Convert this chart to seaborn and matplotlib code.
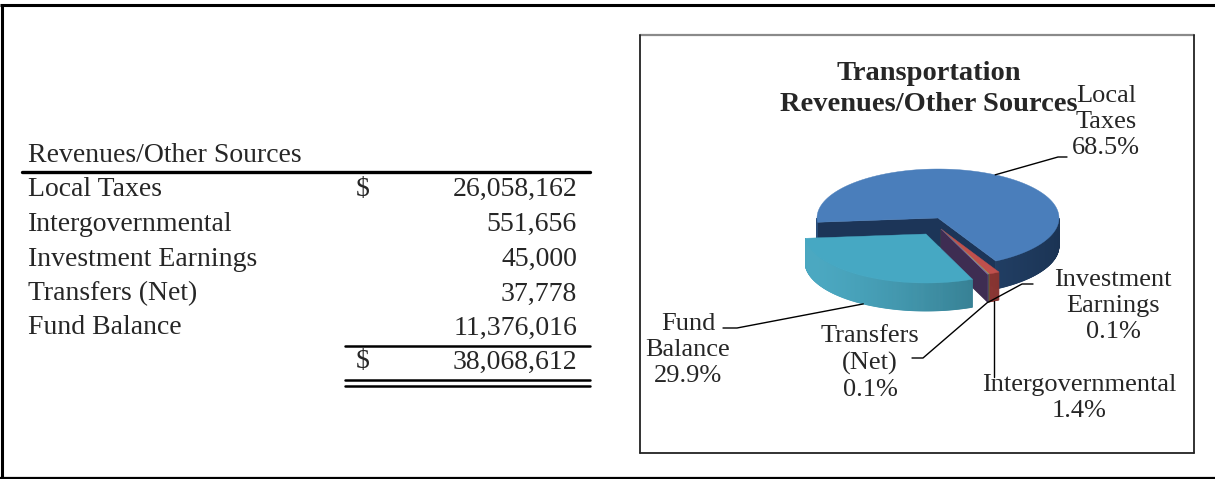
import numpy as np
import matplotlib.pyplot as plt
import matplotlib.colors as mcolors
import seaborn as sns
from matplotlib.patches import Polygon

# data
sources = ["Local Taxes", "Intergovernmental", "Investment Earnings", "Transfers (Net)", "Fund Balance"]
amounts = [26058162, 551656, 45000, 37778, 11376016]
pie_labels = ["Local\nTaxes", "Intergovernmental", "Investment\nEarnings", "Transfers\n(Net)", "Fund\nBalance"]
top_colors = ["#4a7ebb", "#c0504d", "#9bbb59", "#8064a2", "#46a8c3"]
side_light = ["#2a4e7a", "#a8403d", "#6f8c3a", "#5a4275", "#4ba8c1"]
side_dark = ["#1a3252", "#6e2a28", "#4e6428", "#3e2d52", "#245e6d"]
cut_colors = ["#1c3558", "#4a2f48", "#4e6428", "#3e2d52", "#2a6e80"]

sns.set_style("white")
plt.rcParams['font.family'] = ['Liberation Serif', 'DejaVu Serif']

fig = plt.figure(figsize=(12.15, 4.79), dpi=100)
ax = fig.add_axes([0, 0, 1, 1])
ax.set_xlim(0, 1215)
ax.set_ylim(479, 0)
ax.axis('off')

# outer frame
ax.plot([0, 1215], [5, 5], color='black', lw=2.2, solid_capstyle='butt')
ax.plot([1.5, 1.5], [5, 478], color='black', lw=2.2)
ax.plot([0, 1215], [477.5, 477.5], color='black', lw=1.6)

# ---- table ----
FS = 20
total = sum(amounts)
ax.text(28, 155, "Revenues/Other Sources", fontsize=FS, va='center', ha='left')
ax.plot([22, 590], [172, 172], color='black', lw=2.4)
row_y = [189, 224, 259, 294, 328]
for i, (name, val) in enumerate(zip(sources, amounts)):
    ax.text(28, row_y[i], name, fontsize=FS, va='center', ha='left')
    ax.text(577, row_y[i], f"{val:,}", fontsize=FS, va='center', ha='right')
ax.text(356, row_y[0], "$", fontsize=FS, va='center', ha='left')
ax.plot([345, 590], [346, 346], color='black', lw=1.8)
ax.text(356, 362, "$", fontsize=FS, va='center', ha='left')
ax.text(577, 362, f"{total:,}", fontsize=FS, va='center', ha='right')
ax.plot([345, 590], [380, 380], color='black', lw=1.8)
ax.plot([345, 590], [386, 386], color='black', lw=1.8)

# ---- pie box ----
ax.plot([640, 1194], [35, 35], color='#8a8a8a', lw=1.6)
ax.plot([640, 640], [35, 453], color='#222222', lw=1.3)
ax.plot([1194, 1194], [35, 453], color='#222222', lw=1.3)
ax.plot([640, 1194], [453, 453], color='#222222', lw=1.3)

ax.text(929, 89, "Transportation\nRevenues/Other Sources", fontsize=20.5, fontweight='bold',
        ha='center', va='center', linespacing=1.32)

# 3d pie
CX, CY, RX, RY, DEPTH = 938, 218, 121, 49, 28
START = 185
explode_px = [(0, 0), (3, 11), (3, 11), (3, 11), (-12, 16)]

fracs = np.array(amounts) / total
hi = START - 360 * np.concatenate([[0], np.cumsum(fracs)[:-1]])
lo = hi - 360 * fracs


def rim(t, ox, oy, d=0.0):
    r = np.radians(t)
    return CX + ox + RX * np.cos(r), CY + oy - RY * np.sin(r) + d


def shade(c1, c2, f):
    a = np.array(mcolors.to_rgb(c1))
    b = np.array(mcolors.to_rgb(c2))
    return tuple(b + (a - b) * f)


anchors = []
for i in range(len(amounts)):
    ox, oy = explode_px[i]
    a0, a1 = lo[i], hi[i]
    # cut faces
    for t, normal in ((a1, a1 + 90), (a0, a0 - 90)):
        if np.sin(np.radians(normal)) < 0:
            px, py = rim(t, ox, oy)
            pts = [(CX + ox, CY + oy), (px, py), (px, py + DEPTH), (CX + ox, CY + oy + DEPTH)]
            ax.add_patch(Polygon(pts, closed=True, fc=cut_colors[i], ec=cut_colors[i], lw=0.3))
    # outer side
    ts = np.linspace(a0, a1, max(int(abs(a1 - a0) * 2), 2))
    for k in range(len(ts) - 1):
        tm = 0.5 * (ts[k] + ts[k + 1])
        if np.sin(np.radians(tm)) >= 0:
            continue
        f = np.clip(0.5 + 0.5 * np.cos(np.radians(tm - 200)), 0, 1)
        col = shade(side_light[i], side_dark[i], f)
        x0, y0 = rim(ts[k], ox, oy)
        x1, y1 = rim(ts[k + 1], ox, oy)
        pts = [(x0, y0), (x1, y1), (x1, y1 + DEPTH), (x0, y0 + DEPTH)]
        ax.add_patch(Polygon(pts, closed=True, fc=col, ec=col, lw=0.6))
    # top face
    tt = np.linspace(a0, a1, max(int(abs(a1 - a0) * 2), 2))
    xs, ys = rim(tt, ox, oy)
    pts = [(CX + ox, CY + oy)] + list(zip(xs, ys))
    ax.add_patch(Polygon(pts, closed=True, fc=top_colors[i], ec=top_colors[i], lw=0.3))
    mid = 0.5 * (a0 + a1)
    anchors.append((mid, ox, oy))

# labels with leader lines
LFS = 19
LS = 1.25
pct = [f"{100 * f:.1f}%" for f in fracs]
m, ox, oy = anchors[0]
ax_, ay_ = rim(m, ox, oy)
ax.plot([ax_, 1058, 1067], [ay_, 157, 157], color='black', lw=1.0)
ax.text(1106, 122, f"{pie_labels[0]}\n{pct[0]}", fontsize=LFS, ha='center', va='center', linespacing=LS)

m, ox, oy = anchors[1]
bx, by = rim(m, ox, oy, DEPTH)
ax.plot([bx, bx], [by, 377], color='black', lw=1.0)
ax.text(1079, 398, f"{pie_labels[1]}\n{pct[1]}", fontsize=LFS, ha='center', va='center', linespacing=LS)

m, ox, oy = anchors[2]
bx, by = rim(m, ox, oy, DEPTH)
ax.plot([bx, 1022, 1033], [by, 284, 284], color='black', lw=1.0)
ax.text(1113, 306, f"{pie_labels[2]}\n{pct[2]}", fontsize=LFS, ha='center', va='center', linespacing=LS)

m, ox, oy = anchors[3]
bx, by = rim(m, ox, oy, DEPTH)
ax.plot([bx, 923, 912], [by, 358, 358], color='black', lw=1.0)
ax.text(870, 363, f"{pie_labels[3]}\n{pct[3]}", fontsize=LFS, ha='center', va='center', linespacing=LS)

m, ox, oy = anchors[4]
bx, by = rim(m, ox, oy, DEPTH)
ax.plot([bx, 737, 723], [by, 328, 328], color='black', lw=1.0)
ax.text(688, 350, f"{pie_labels[4]}\n{pct[4]}", fontsize=LFS, ha='center', va='center', linespacing=LS)

fig.savefig("out.png", dpi=100)
